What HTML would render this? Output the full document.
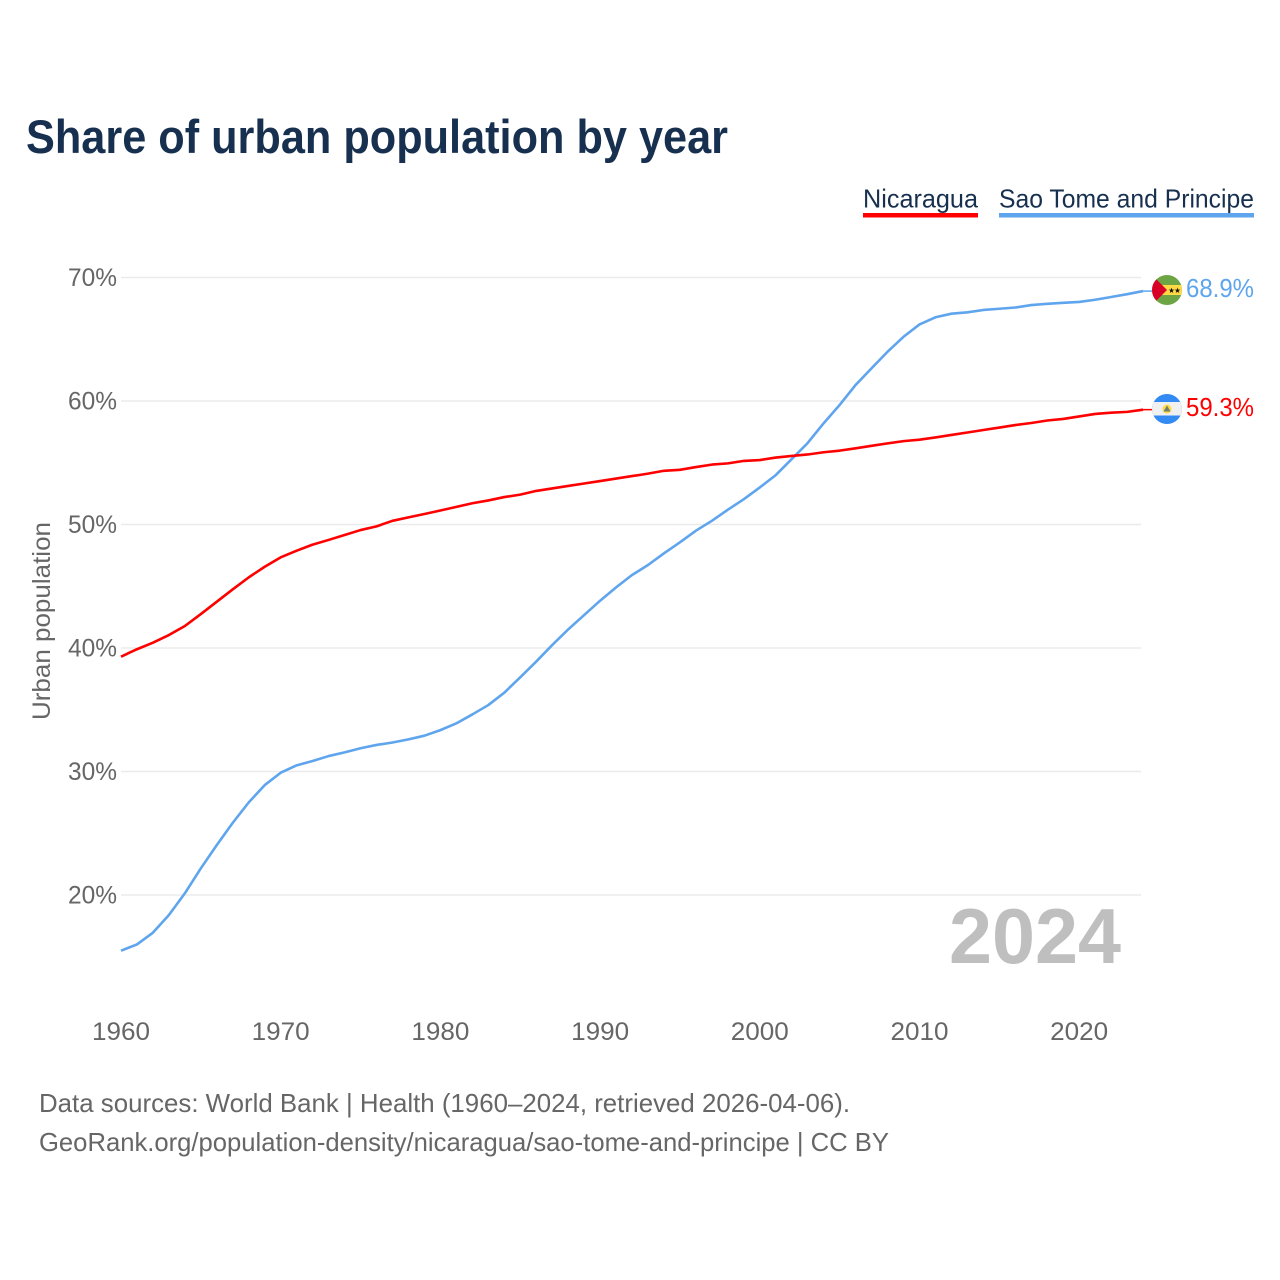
<!DOCTYPE html>
<html lang="en">
<head>
<meta charset="utf-8">
<title>Share of urban population by year</title>
<style>
  html, body { margin: 0; padding: 0; background: #fff; }
  svg { display: block; font-family: "Liberation Sans", sans-serif; }
</style>
</head>
<body>
<svg id="chart" xmlns="http://www.w3.org/2000/svg" width="1280" height="1280" viewBox="0 0 1280 1280">
  <rect width="1280" height="1280" fill="#ffffff"/>
  <text x="26" y="153" font-size="47" font-weight="700" fill="#17304f" textLength="702" lengthAdjust="spacingAndGlyphs">Share of urban population by year</text>

  <g>
    <text x="863" y="207.5" font-size="26" fill="#17304f" textLength="115" lengthAdjust="spacingAndGlyphs">Nicaragua</text>
    <rect x="863" y="213" width="115" height="4.5" fill="#ff0000"/>
  </g>
  <g>
    <text x="999" y="207.5" font-size="26" fill="#17304f" textLength="255" lengthAdjust="spacingAndGlyphs">Sao Tome and Principe</text>
    <rect x="999" y="213" width="255" height="4.5" fill="#5fa5ee"/>
  </g>

  <g id="y-grid"></g>
  <g id="y-ticks"></g>
  <g id="x-ticks"></g>

  <text transform="translate(50,621) rotate(-90)" text-anchor="middle" font-size="25" fill="#666666" textLength="198" lengthAdjust="spacingAndGlyphs">Urban population</text>

  <text x="949" y="963" font-size="78" font-weight="700" fill="#bfbfbf" textLength="172" lengthAdjust="spacingAndGlyphs">2024</text>

  <g id="series"></g>

  <defs>
    <clipPath id="clip-stp"><circle cx="1167" cy="290" r="15"/></clipPath>
    <clipPath id="clip-nic"><circle cx="1167" cy="409" r="15"/></clipPath>
  </defs>

  <g clip-path="url(#clip-stp)">
    <rect x="1152" y="275" width="30" height="30" fill="#6da544"/>
    <rect x="1152" y="285" width="30" height="10" fill="#ffda44"/>
    <polygon points="1152,275 1167,290 1152,305" fill="#d80027"/>
    <polygon points="1171.5,287.5 1172.2,289.6 1174.4,289.6 1172.6,290.9 1173.3,293 1171.5,291.7 1169.7,293 1170.4,290.9 1168.6,289.6 1170.8,289.6" fill="#111111"/>
    <polygon points="1177.5,287.5 1178.2,289.6 1180.4,289.6 1178.6,290.9 1179.3,293 1177.5,291.7 1175.7,293 1176.4,290.9 1174.6,289.6 1176.8,289.6" fill="#111111"/>
  </g>
  <g clip-path="url(#clip-nic)">
    <rect x="1152" y="394" width="30" height="30" fill="#338af3"/>
    <rect x="1152" y="402" width="30" height="13.5" fill="#f0f0f0"/>
    <circle cx="1167" cy="409" r="4.5" fill="#ffda44"/>
    <polygon points="1167,405.5 1170.5,411.5 1163.5,411.5" fill="#6f7f70"/>
  </g>

  <text x="1186" y="297" font-size="26" fill="#5fa5ee" textLength="68" lengthAdjust="spacingAndGlyphs">68.9%</text>
  <text x="1186" y="416" font-size="26" fill="#ff0000" textLength="68" lengthAdjust="spacingAndGlyphs">59.3%</text>

  <text x="39" y="1112" font-size="26" fill="#666666" textLength="811" lengthAdjust="spacingAndGlyphs">Data sources: World Bank | Health (1960–2024, retrieved 2026-04-06).</text>
  <text x="39" y="1151" font-size="26" fill="#666666" textLength="850" lengthAdjust="spacingAndGlyphs">GeoRank.org/population-density/nicaragua/sao-tome-and-principe | CC BY</text>
</svg>
<script>
var startYear = 1960;
var yTickValues = [20, 30, 40, 50, 60, 70];
var yTickLabels = ["20%", "30%", "40%", "50%", "60%", "70%"];
var xTickValues = [1960, 1970, 1980, 1990, 2000, 2010, 2020];
var xTickLabels = ["1960", "1970", "1980", "1990", "2000", "2010", "2020"];
var nicaraguaValues = [
  39.3, 39.9, 40.43, 41.05, 41.78, 42.75, 43.75, 44.75, 45.72, 46.58,
  47.34, 47.88, 48.37, 48.75, 49.15, 49.55, 49.85, 50.3, 50.58, 50.85,
  51.13, 51.43, 51.72, 51.95, 52.22, 52.42, 52.72, 52.92, 53.12, 53.32,
  53.52, 53.72, 53.92, 54.12, 54.35, 54.43, 54.65, 54.85, 54.95, 55.15,
  55.22, 55.42, 55.55, 55.67, 55.85, 55.98, 56.17, 56.37, 56.57, 56.75,
  56.87, 57.05, 57.25, 57.45, 57.65, 57.85, 58.05, 58.22, 58.42, 58.55,
  58.75, 58.95, 59.05, 59.12, 59.3
];
var saoTomeValues = [
  15.49, 16.0, 16.95, 18.38, 20.14, 22.16, 24.05, 25.85, 27.5, 28.9,
  29.9, 30.5, 30.85, 31.25, 31.55, 31.88, 32.15, 32.35, 32.6, 32.9,
  33.35, 33.9, 34.62, 35.38, 36.38, 37.63, 38.9, 40.24, 41.5, 42.67,
  43.83, 44.91, 45.91, 46.72, 47.67, 48.56, 49.5, 50.3, 51.2, 52.05,
  53.0, 54.0, 55.3, 56.6, 58.2, 59.68, 61.3, 62.65, 63.99, 65.2,
  66.2, 66.78, 67.07, 67.18, 67.37, 67.47, 67.57, 67.77, 67.87, 67.95,
  68.02, 68.2, 68.42, 68.65, 68.9
];

var SVG_NS = "http://www.w3.org/2000/svg";
function xScale(year) { return 121 + (year - 1960) * 15.97; }
function yScale(value) { return 277.5 + (70 - value) * 12.35; }
function make(tag, attrs, parent, text) {
  var el = document.createElementNS(SVG_NS, tag);
  for (var k in attrs) { el.setAttribute(k, attrs[k]); }
  if (text !== undefined) { el.textContent = text; }
  parent.appendChild(el);
  return el;
}

var gridGroup = document.getElementById("y-grid");
var yTickGroup = document.getElementById("y-ticks");
yTickValues.forEach(function (v, i) {
  var line = make("line", { x1: 121, x2: 1141, y1: yScale(v), y2: yScale(v), stroke: "#ebebeb", "stroke-width": 1.5 }, gridGroup);
  
  
  var label = make("text", { x: 68, y: yScale(v) + 8.5, "font-size": 25, fill: "#666666", textLength: 49, lengthAdjust: "spacingAndGlyphs" }, yTickGroup, yTickLabels[i]);
  
  
});

var xTickGroup = document.getElementById("x-ticks");
xTickValues.forEach(function (v, i) {
  var label = make("text", { x: xScale(v), y: 1040, "font-size": 25, fill: "#666666", "text-anchor": "middle", textLength: 58, lengthAdjust: "spacingAndGlyphs" }, xTickGroup, xTickLabels[i]);
  
  
});

function buildPoints(values) {
  return values.map(function (v, i) {
    return xScale(startYear + i).toFixed(2) + "," + yScale(v).toFixed(2);
  }).join(" ");
}
var seriesGroup = document.getElementById("series");

var saoLine = make("polyline", { points: buildPoints(saoTomeValues), fill: "none", stroke: "#5fa5ee", "stroke-width": 2.6, "stroke-linejoin": "round" }, seriesGroup);


var nicLine = make("polyline", { points: buildPoints(nicaraguaValues), fill: "none", stroke: "#ff0000", "stroke-width": 2.6, "stroke-linejoin": "round" }, seriesGroup);



var lastYear = startYear + saoTomeValues.length - 1;
var saoLead = make("line", { x1: xScale(lastYear), x2: 1152, y1: yScale(saoTomeValues[saoTomeValues.length - 1]), y2: yScale(saoTomeValues[saoTomeValues.length - 1]), stroke: "#5fa5ee", "stroke-width": 1.5 }, seriesGroup);


var nicLead = make("line", { x1: xScale(lastYear), x2: 1152, y1: yScale(nicaraguaValues[nicaraguaValues.length - 1]), y2: yScale(nicaraguaValues[nicaraguaValues.length - 1]), stroke: "#ff0000", "stroke-width": 1.5 }, seriesGroup);


</script>
</body>
</html>
